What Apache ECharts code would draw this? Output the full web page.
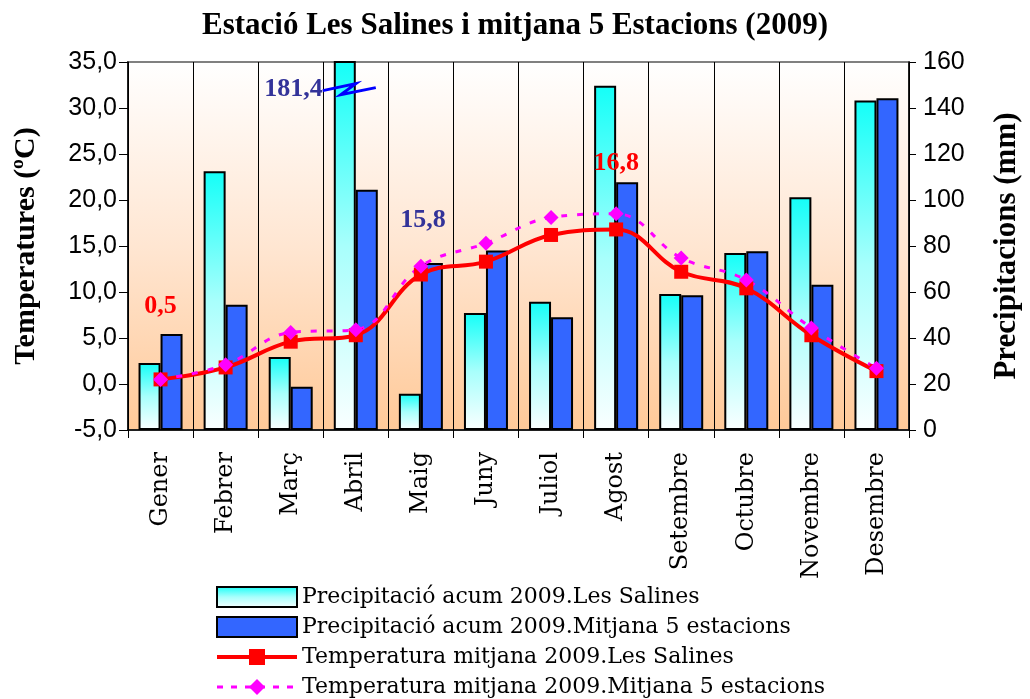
<!DOCTYPE html>
<html>
<head>
<meta charset="utf-8">
<script src="https://cdn.jsdelivr.net/npm/echarts@6/dist/echarts.min.js"></script>
<style>html,body{margin:0;padding:0;background:#fff}#c{width:1030px;height:699px}</style>
</head>
<body>
<div id="c"></div>
<script>
const months = ['Gener','Febrer','Març','Abril','Maig','Juny','Juliol','Agost','Setembre','Octubre','Novembre','Desembre'];
const precipSalines = [29.1, 112.5, 31.7, 181.4, 15.8, 50.9, 55.8, 149.7, 59.1, 77.0, 101.2, 143.3];
const precipMitjana = [41.7, 54.5, 18.8, 104.5, 72.6, 78.0, 49.0, 107.7, 58.6, 77.7, 63.2, 144.2];
const tempSalines = [0.5, 1.8, 4.6, 5.3, 11.9, 13.3, 16.2, 16.8, 12.2, 10.4, 5.3, 1.4];
const tempMitjana = [0.5, 2.1, 5.6, 5.9, 12.8, 15.3, 18.1, 18.5, 13.7, 11.3, 6.1, 1.7];
const seriesNames = ['Precipitació acum 2009.Les Salines','Precipitació acum 2009.Mitjana 5 estacions','Temperatura mitjana 2009.Les Salines','Temperatura mitjana 2009.Mitjana 5 estacions'];
const titleText = 'Estació Les Salines i mitjana 5 Estacions (2009)';
const leftAxisName = 'Temperatures (ºC)';
const rightAxisName = 'Precipitacions (mm)';
const tempLabelIdx = [0, 7];      // labelled temperature points
const precipLabelIdx = 4;         // labelled precipitation bar (Maig)
const brokenBarIdx = 3;           // Abril bar exceeds the axis

const comma = v => String(v).replace('.', ',');
const serif = 'Liberation Serif';

const chart = echarts.init(document.getElementById('c'), null, {renderer: 'canvas'});

const salinesBarData = precipSalines.map((v, i) => {
  if (i === precipLabelIdx) {
    return {value: v, label: {show: true, position: 'top', distance: 160, offset: [13, 0],
      formatter: p => comma(p.value), color: '#333399', fontFamily: serif, fontWeight: 'bold', fontSize: 26}};
  }
  return v;
});
const tempSalinesData = tempSalines.map((v, i) => {
  if (tempLabelIdx.includes(i)) {
    return {value: v, label: {show: true, position: 'top', distance: i === 0 ? 53 : 46,
      formatter: p => comma(p.value), color: '#FF0000', fontFamily: serif, fontWeight: 'bold', fontSize: 26}};
  }
  return v;
});

const option = {
  backgroundColor: '#fff',
  animation: false,
  title: {
    text: titleText, left: 'center', top: 5,
    textStyle: {fontFamily: serif, fontWeight: 'bold', fontSize: 31, color: '#000'}
  },
  grid: {
    left: 128, right: 121, top: 62, bottom: 269,
    show: true, borderColor: '#808080', borderWidth: 2,
    backgroundColor: {type: 'linear', x: 0, y: 0, x2: 0, y2: 1, colorStops: [
      {offset: 0, color: '#FFFFFF'}, {offset: 0.5, color: '#FFE6D2'}, {offset: 1, color: '#FFC998'}]}
  },
  legend: {
    orient: 'vertical', left: 215, top: 586, height: 125, padding: 0,
    itemWidth: 80, itemHeight: 20, itemGap: 8,
    textStyle: {fontFamily: 'DejaVu Serif', fontSize: 22, color: '#000'},
    data: [
      {name: seriesNames[0], icon: 'rect'},
      {name: seriesNames[1], icon: 'rect'},
      {name: seriesNames[2], lineStyle: {width: 4, color: '#FF0000'}},
      {name: seriesNames[3], lineStyle: {width: 3, color: '#FF00FF', type: [6, 8]}}
    ]
  },
  xAxis: {
    type: 'category', data: months, boundaryGap: true,
    axisLine: {onZero: false, lineStyle: {color: '#000', width: 1.5}},
    axisTick: {show: true, length: 8, lineStyle: {color: '#000'}},
    splitLine: {show: true, lineStyle: {color: '#000', width: 1}},
    axisLabel: {rotate: 90, margin: 22, interval: 0, fontFamily: 'DejaVu Serif', fontSize: 24, color: '#000'}
  },
  yAxis: [
    {
      type: 'value', min: -5, max: 35, interval: 5, position: 'left',
      name: leftAxisName, nameLocation: 'middle', nameRotate: 90, nameGap: 87,
      nameTextStyle: {fontFamily: serif, fontWeight: 'bold', fontSize: 30, color: '#000'},
      axisLine: {show: true, lineStyle: {color: '#000', width: 1.5}},
      axisTick: {show: true, length: 9, lineStyle: {color: '#000'}},
      splitLine: {show: false},
      axisLabel: {margin: 11, fontFamily: 'Liberation Sans', fontSize: 25, color: '#000',
        formatter: v => v.toFixed(1).replace('.', ',')}
    },
    {
      type: 'value', min: 0, max: 160, interval: 20, position: 'right',
      name: rightAxisName, nameLocation: 'middle', nameRotate: 90, nameGap: 82,
      nameTextStyle: {fontFamily: serif, fontWeight: 'bold', fontSize: 31, color: '#000'},
      axisLine: {show: true, lineStyle: {color: '#000', width: 1.5}},
      axisTick: {show: true, length: 7, lineStyle: {color: '#000'}},
      splitLine: {show: false},
      axisLabel: {margin: 14, fontFamily: 'Liberation Sans', fontSize: 25, color: '#000'}
    }
  ],
  series: [
    {
      name: seriesNames[0], type: 'bar', yAxisIndex: 1, barWidth: 22, barGap: '0%', clip: true,
      itemStyle: {borderColor: '#000', borderWidth: 2,
        color: {type: 'linear', x: 0, y: 0, x2: 0, y2: 1, colorStops: [
          {offset: 0, color: '#14FFF8'}, {offset: 0.5, color: '#A8FFFC'}, {offset: 1, color: '#FAFFFF'}]}},
      data: salinesBarData
    },
    {
      name: seriesNames[1], type: 'bar', yAxisIndex: 1, barWidth: 22, barGap: '0%',
      itemStyle: {color: '#3366FF', borderColor: '#000', borderWidth: 2},
      data: precipMitjana
    },
    {
      name: seriesNames[2], type: 'line', yAxisIndex: 0, smooth: 0.4,
      symbol: 'rect', symbolSize: 14,
      lineStyle: {color: '#FF0000', width: 4},
      itemStyle: {color: '#FF0000'},
      data: tempSalinesData
    },
    {
      name: seriesNames[3], type: 'line', yAxisIndex: 0, smooth: 0.4,
      symbol: 'diamond', symbolSize: 15,
      lineStyle: {color: '#FF00FF', width: 3, type: [6, 10]},
      itemStyle: {color: '#FF00FF'},
      data: tempMitjana
    }
  ]
};
chart.setOption(option);

// break marker and value label for the Abril bar that exceeds the axis
const bw = 22;
const pt = chart.convertToPixel({xAxisIndex: 0, yAxisIndex: 0}, [months[brokenBarIdx], 32]);
const cx = pt[0] - bw / 2, cy = pt[1];
chart.setOption({
  graphic: [
    {type: 'polyline', z: 100, shape: {points: [[cx - 22, cy + 1], [cx + 11, cy - 6], [cx - 4, cy + 5], [cx + 31, cy - 2]]},
      style: {stroke: '#0000FF', lineWidth: 3, fill: null}},
    {type: 'text', z: 100, x: cx - 22, y: cy, style: {text: comma(precipSalines[brokenBarIdx]), align: 'right', verticalAlign: 'middle',
      fill: '#333399', font: 'bold 26px "Liberation Serif"'}}
  ]
});
</script>
</body>
</html>
